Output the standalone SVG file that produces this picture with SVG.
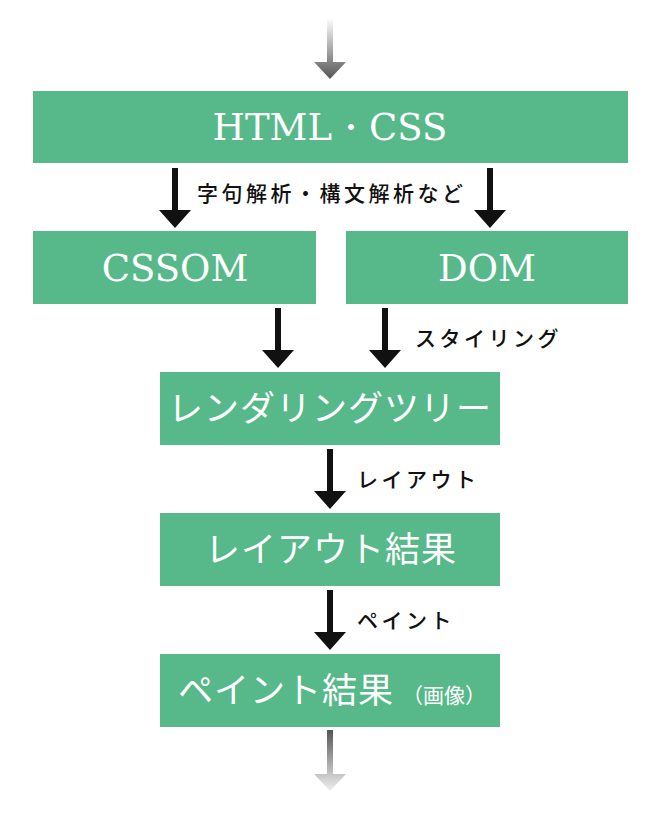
<svg xmlns="http://www.w3.org/2000/svg" width="660" height="826" viewBox="0 0 660 826">
<style>
.box{fill:#57b98a}
.t{fill:#fff;font-family:"DejaVu Serif","Liberation Serif",serif;font-size:37px;text-anchor:middle}
.j{fill:#fff;font-family:"Noto Sans CJK JP",sans-serif;font-size:35px;letter-spacing:1px;text-anchor:middle}
.l{fill:#111;font-family:"Noto Sans CJK JP",sans-serif;font-size:21px;letter-spacing:3.5px;font-weight:500}
.a{fill:#111}
</style>
<defs>
<linearGradient id="gTop" x1="0" y1="0" x2="0" y2="1"><stop offset="0" stop-color="#fff"/><stop offset="1" stop-color="#555"/></linearGradient>
<linearGradient id="gBot" x1="0" y1="0" x2="0" y2="1"><stop offset="0" stop-color="#555"/><stop offset="1" stop-color="#f0f0f0"/></linearGradient>
</defs>
<g id="connectors">
<path d="M327 18h6v44h13l-16 17l-16-17h13z" fill="url(#gTop)"/>
<path class="a" d="M172 168h6v42h13l-16 18l-16-18h13z"/>
<path class="a" d="M487 168h6v42h13l-16 18l-16-18h13z"/>
<path class="a" d="M275 308h6v42h13l-16 18l-16-18h13z"/>
<path class="a" d="M382 308h6v42h13l-16 18l-16-18h13z"/>
<path class="a" d="M327 449h6v42h13l-16 18l-16-18h13z"/>
<path class="a" d="M327 590h6v42h13l-16 18l-16-18h13z"/>
<path d="M327 730h6v44h13l-16 17l-16-17h13z" fill="url(#gBot)"/>
<text class="l" x="197" y="201">字句解析・構文解析など</text>
<text class="l" x="415" y="346">スタイリング</text>
<text class="l" x="357" y="487">レイアウト</text>
<text class="l" x="357" y="628">ペイント</text>
</g>
<g id="html-css"><rect class="box" x="33" y="91" width="595" height="72"/><text class="t" x="330" y="140">HTML・CSS</text></g>
<g id="cssom"><rect class="box" x="33" y="231" width="283" height="73"/><text class="t" x="175" y="281">CSSOM</text></g>
<g id="dom"><rect class="box" x="346" y="231" width="282" height="73"/><text class="t" x="487" y="281">DOM</text></g>
<g id="render-tree"><rect class="box" x="160" y="372" width="340" height="73"/><text class="j" x="330" y="421">レンダリングツリー</text></g>
<g id="layout-result"><rect class="box" x="160" y="513" width="340" height="73"/><text class="j" x="331" y="562">レイアウト結果</text></g>
<g id="paint-result"><rect class="box" x="160" y="654" width="340" height="73"/><text class="j" x="178" y="703" style="text-anchor:start">ペイント結果<tspan font-size="21px" letter-spacing="0" dx="8">（画像）</tspan></text></g>
</svg>
